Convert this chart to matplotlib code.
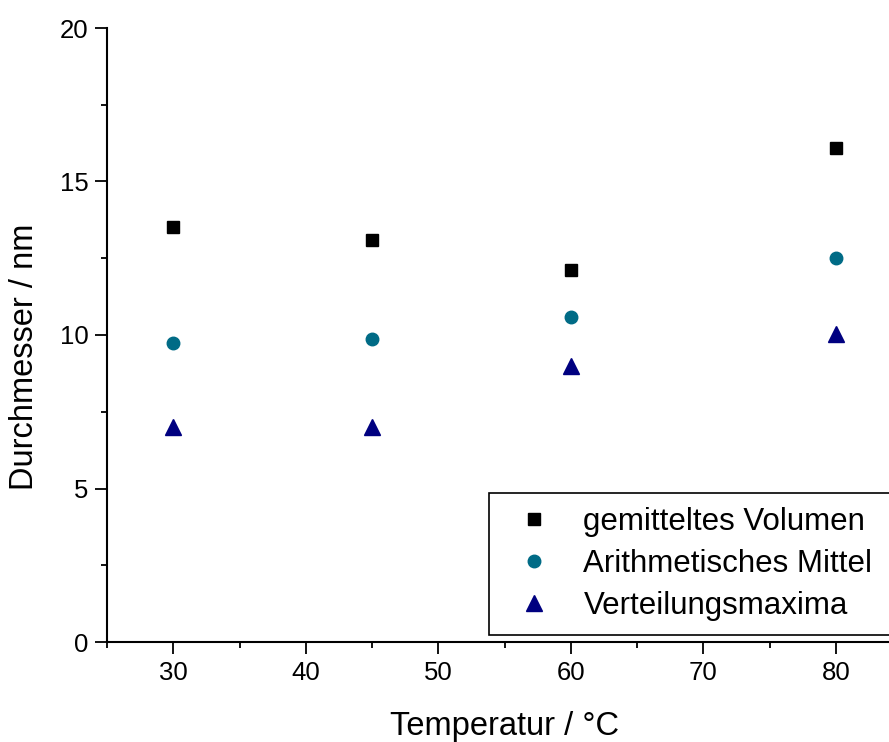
import matplotlib.pyplot as plt
from matplotlib.ticker import MultipleLocator

plt.rcParams['font.family'] = ['Liberation Sans', 'DejaVu Sans']

temps = [30, 45, 60, 80]
volumen = [13.52, 13.09, 12.12, 16.09]
arith = [9.74, 9.87, 10.59, 12.51]
maxima = [7.0, 7.0, 9.0, 10.03]

fig = plt.figure(figsize=(8.89, 7.42), dpi=100)
ax = fig.add_axes([107/889, 1-642/742, 1-107/889, (642-28)/742])

ax.plot(temps, volumen, 's', color='black', ms=8, ls='none', label='gemitteltes Volumen')
ax.plot(temps, arith, 'o', color='#006b86', ms=9, ls='none', label='Arithmetisches Mittel')
ax.plot(temps, maxima, '^', color='#000080', ms=11, ls='none', label='Verteilungsmaxima')

ax.set_xlim(25, 84.0)
ax.set_ylim(0, 20)
ax.xaxis.set_major_locator(MultipleLocator(10))
ax.xaxis.set_minor_locator(MultipleLocator(5))
ax.yaxis.set_major_locator(MultipleLocator(5))
ax.yaxis.set_minor_locator(MultipleLocator(2.5))
ax.spines['top'].set_visible(False)
ax.spines['right'].set_visible(False)
for s in ('left', 'bottom'):
    ax.spines[s].set_linewidth(1.5)
ax.tick_params(which='major', direction='out', length=8.5, width=1.3, labelsize=18.5, pad=5)
ax.tick_params(which='minor', direction='out', length=4.5, width=1.3)

ax.set_xlabel('Temperatur / °C', fontsize=23.5)
ax.xaxis.set_label_coords(0.509, -0.113)
ax.set_ylabel('Durchmesser / nm', fontsize=23.5)
ax.yaxis.set_label_coords(-0.086, 0.465)

# legend box runs past the right edge like in the cropped original
leg = ax.legend(loc='lower left', bbox_to_anchor=(489/889, 1-635/742, 0.6, (635-487)/742),
                bbox_transform=fig.transFigure, mode='expand', fontsize=22.5,
                fancybox=False, edgecolor='black', framealpha=1, borderpad=0.45,
                handletextpad=0.57, labelspacing=0.38, handlelength=2.0, borderaxespad=0)
leg.get_frame().set_linewidth(1.2)

fig.savefig('out.png', dpi=100)
